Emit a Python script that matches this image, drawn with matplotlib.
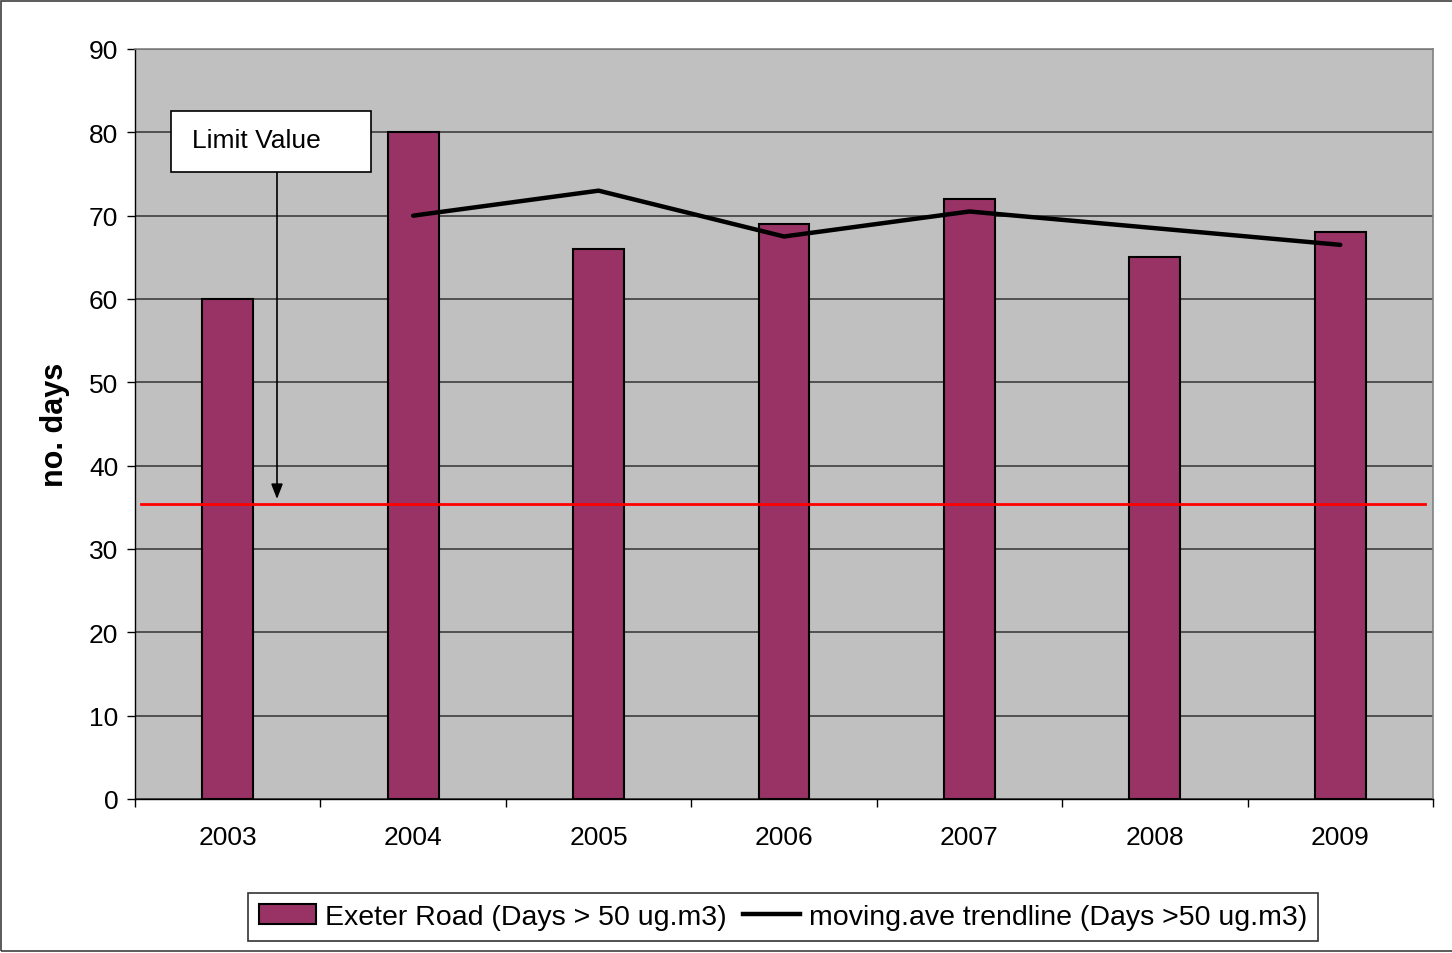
import matplotlib.pyplot as plt
from matplotlib.patches import Rectangle, Patch
from matplotlib.lines import Line2D
import numpy as np

plt.rcParams["font.family"] = ["Liberation Sans", "DejaVu Sans"]

BAR = "#993366"
PLOT_BG = "#C0C0C0"
GRID = "#333333"

years = ["2003", "2004", "2005", "2006", "2007", "2008", "2009"]
days_over = [60, 80, 66, 69, 72, 65, 68]
trend_years = ["2004", "2005", "2006", "2007", "2008", "2009"]
trend_vals = [70, 73, 67.5, 70.5, 68.5, 66.5]
limit_value = 35.4
y_ticks = [0, 10, 20, 30, 40, 50, 60, 70, 80, 90]

W, H = 1452, 954
fig = plt.figure(figsize=(W / 100, H / 100), dpi=100, facecolor="white")

# outer chart border
fig.add_artist(Rectangle((1 / W, 2 / H), 1.2, 950 / H, transform=fig.transFigure,
                         fill=False, edgecolor="#404040", lw=1.2))

ax = fig.add_axes([135 / W, (H - 800) / H, 1298 / W, 750 / H])
ax.set_facecolor(PLOT_BG)

x = np.arange(len(years))
ax.bar(x, days_over, width=0.275, color=BAR, edgecolor="black", linewidth=1.5, zorder=3)

tx = [years.index(y) for y in trend_years]
ax.plot(tx, trend_vals, color="black", lw=3.2, zorder=4, solid_capstyle="round")

ax.axhline(limit_value, xmin=6 / 1298, xmax=1290 / 1298, color="#FF0000", lw=2, zorder=5)

ax.set_xlim(-0.5, len(years) - 0.5)
ax.set_ylim(0, 90)
ax.set_yticks(y_ticks)
ax.yaxis.grid(True, color=GRID, lw=1.1, zorder=1)
ax.set_axisbelow(True)
ax.set_xticks(x)
ax.set_xticklabels(years)
ax.set_xticks(np.arange(-0.5, len(years), 1), minor=True)
ax.tick_params(axis="x", which="major", length=0, pad=19, labelsize=19)
ax.tick_params(axis="x", which="minor", length=6, width=1, color="black", direction="out")
ax.tick_params(axis="y", length=6, width=1, direction="out", pad=6, labelsize=19)

for s in ["top", "right"]:
    ax.spines[s].set_color("#808080")
    ax.spines[s].set_linewidth(1.2)
for s in ["left", "bottom"]:
    ax.spines[s].set_color("black")
    ax.spines[s].set_linewidth(1)

fig.text(55 / W, 1 - 425 / H, "no. days", rotation=90, ha="center", va="center",
         fontsize=22, fontweight="bold")

# "Limit Value" callout
fig.add_artist(Rectangle((171 / W, 1 - 173 / H), 200 / W, 61 / H, transform=fig.transFigure,
                         facecolor="white", edgecolor="black", lw=1.2, zorder=10))
fig.text(192 / W, 1 - 141 / H, "Limit Value", ha="left", va="center", fontsize=19, zorder=11)
ax.annotate("", xy=((277 - 135) / 1298, (800 - 500) / 750), xycoords="axes fraction",
            xytext=((277 - 135) / 1298, (800 - 173) / 750), textcoords="axes fraction",
            arrowprops=dict(arrowstyle="-|>,head_length=0.9,head_width=0.35",
                            color="black", lw=1.2, shrinkA=0, shrinkB=0), zorder=6)

handles = [Patch(facecolor=BAR, edgecolor="black", lw=1.5),
           Line2D([], [], color="black", lw=3.2)]
labels = ["Exeter Road (Days > 50 ug.m3)", "moving.ave trendline (Days >50 ug.m3)"]
leg = fig.legend(handles, labels, loc="center", bbox_to_anchor=(783 / W, 1 - 918 / H),
                 ncol=2, fontsize=20.5, frameon=True, fancybox=False, edgecolor="black",
                 handlelength=2.0, handletextpad=0.3, columnspacing=0.6, borderpad=0.4)
leg.get_frame().set_linewidth(1.2)

fig.savefig("out.png", dpi=100, facecolor="white")
